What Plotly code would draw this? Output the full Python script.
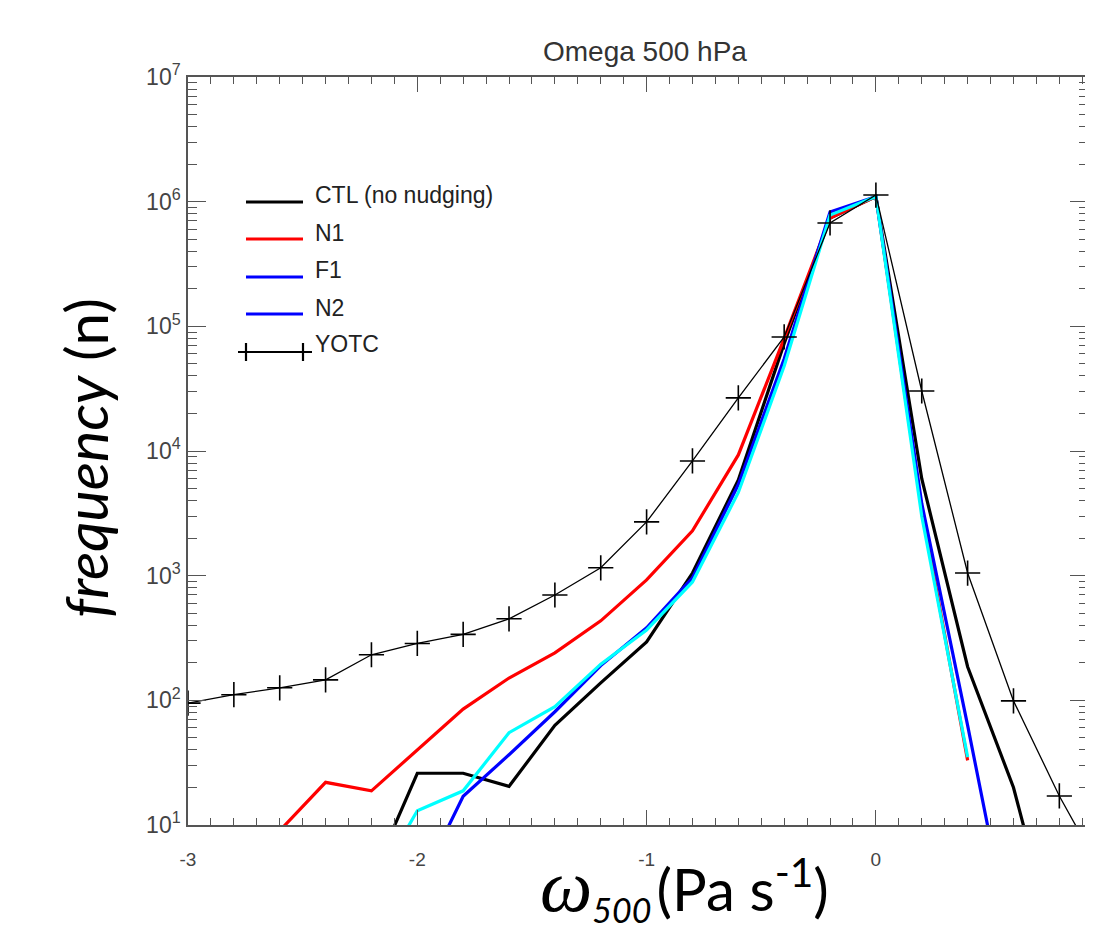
import plotly.graph_objects as go

# ---------------- data ----------------
omega = [-3.0, -2.8, -2.6, -2.4, -2.2, -2.0, -1.8, -1.6, -1.4, -1.2, -1.0,
         -0.8, -0.6, -0.4, -0.2, 0.0, 0.2, 0.4, 0.6, 0.8, 1.0]

ctl = [None, None, None, None, 3.7, 26, 26, 20.4, 63, 138, 294,
       1050, 5850, 73000, 740000, 1100000, 6000, 186, 20, 0.8, None]
n1 = [None, None, 9, 22, 18.8, 40, 85, 151, 240, 434, 925,
      2290, 9300, 80000, 740000, 1100000, 3400, 33, None, None, None]
f1 = [None, None, None, None, None, 3, 17, 36.6, 81, 190, 382,
      960, 5380, 55000, 826000, 1100000, 3800, 63, 0.9, None, None]
n2 = [None, None, None, None, 3, 13, 18.8, 55, 89, 195, 367,
      890, 4650, 48000, 780000, 1100000, 3000, 35, None, None, None]
yotc = [95, 111, 126, 146, 232, 286, 338, 451, 700, 1156, 2700,
        8320, 26700, 82200, 675000, 1130000, 30300, 1050, 99, 17.1, 3.7]

x_tickvals = [-3, -2, -1, 0]
x_ticktext = ["-3", "-2", "-1", "0"]
y_exponents = [1, 2, 3, 4, 5, 6, 7]

legend_names = ["CTL (no nudging)", "N1", "F1", "N2", "YOTC"]
legend_colors = ["#000000", "#ff0000", "#0000ff", "#0000ff", "#000000"]

# ---------------- figure ----------------
fig = go.Figure()

series = [
    ("CTL (no nudging)", ctl, "#000000"),
    ("N1", n1, "#ff0000"),
    ("F1", f1, "#0000ff"),
    ("N2", n2, "#00ffff"),
]
for name, vals, col in series:
    fig.add_trace(go.Scatter(
        x=omega, y=vals, mode="lines", name=name,
        line=dict(color=col, width=3.2), showlegend=False,
        connectgaps=False,
    ))

fig.add_trace(go.Scatter(
    x=omega, y=yotc, mode="lines+markers", name="YOTC",
    line=dict(color="#000000", width=1.3),
    marker=dict(symbol="cross-thin", size=18,
                line=dict(color="#000000", width=1.6)),
    showlegend=False,
))

# geometry: screen pixels (page has an 8px body margin)
OFF = 8
W, H = 1093, 929
L, R, T, B = 188, 1088, 77, 825  # plot area in screen pixels
x0, x1 = -3.0, 0.925

y_tickvals = [10 ** e for e in y_exponents]
y_ticktext = ["10<sup>%d</sup>" % e for e in y_exponents]
y_minor = [k * 10 ** e for e in y_exponents[:-1] for k in range(2, 10)]

axcol = "#555555"
fig.update_layout(
    width=W, height=H,
    margin=dict(l=L - OFF, r=W - (R - OFF), t=T - OFF, b=H - (B - OFF), pad=0),
    plot_bgcolor="white", paper_bgcolor="white",
    font=dict(family="Liberation Sans, Arial, sans-serif", color="#444444"),
    showlegend=False,
    xaxis=dict(
        range=[x0, x1], showgrid=False, zeroline=False,
        showline=True, linecolor=axcol, linewidth=1.5, mirror="ticks",
        ticks="inside", ticklen=15, tickwidth=1.2, tickcolor=axcol,
        tickvals=x_tickvals, ticktext=x_ticktext,
        tickfont=dict(size=19, color="#444444"),
        ticklabelstandoff=16,
        minor=dict(dtick=0.1, tick0=0, ticks="inside", ticklen=7,
                   tickwidth=1.2, tickcolor=axcol, showgrid=False),
    ),
    yaxis=dict(
        type="log", range=[1, 7], showgrid=False, zeroline=False,
        showline=True, linecolor=axcol, linewidth=1.5, mirror="ticks",
        ticks="inside", ticklen=18, tickwidth=1.2, tickcolor=axcol,
        tickvals=y_tickvals, ticktext=y_ticktext,
        tickfont=dict(size=23, color="#444444"),
        ticklabelstandoff=1,
        minor=dict(tickmode="array", tickvals=y_minor, ticks="inside", ticklen=9,
                   tickwidth=1.4, tickcolor=axcol, showgrid=False),
    ),
)


def px(xp):
    return (xp - L) / (R - L)


def py(yp):
    return (B - yp) / (B - T)


# title
fig.add_annotation(
    text="Omega 500 hPa", xref="paper", yref="paper",
    x=px(645), y=py(52),
    xanchor="center", yanchor="middle", showarrow=False,
    font=dict(size=28, color="#333333", family="Liberation Sans, Arial"),
)

# axis titles
fig.add_annotation(
    text=("<span style='font-family:Liberation Serif;font-size:74px'><i>ω</i></span>"
          "<sub><span style='font-size:34px'><i>500</i></span></sub>"
          "<span style='font-size:20px'> </span>(Pa s<sup>-1</sup>)"),
    xref="paper", yref="paper",
    x=px(684), y=py(887),
    xanchor="center", yanchor="middle", showarrow=False,
    font=dict(size=58, color="#000000", family="Lato, Open Sans, sans-serif"),
)
fig.add_annotation(
    text="<i>frequency</i> (n)",
    xref="paper", yref="paper",
    x=px(86), y=py(458),
    xanchor="center", yanchor="middle", showarrow=False, textangle=-90,
    font=dict(size=59, color="#000000", family="Lato, Open Sans, sans-serif"),
)

# manual legend
line_y = [202, 239, 277, 314, 352]
text_y = [195, 233, 270, 308, 344]
for i, (nm, col) in enumerate(zip(legend_names, legend_colors)):
    if nm == "YOTC":
        fig.add_shape(type="line", xref="paper", yref="paper",
                      x0=px(238), x1=px(312), y0=py(line_y[i]), y1=py(line_y[i]),
                      line=dict(color=col, width=2.2))
        for cx in (246, 303):
            fig.add_shape(type="line", xref="paper", yref="paper",
                          x0=px(cx), x1=px(cx), y0=py(line_y[i] - 9), y1=py(line_y[i] + 9),
                          line=dict(color=col, width=2.2))
    else:
        fig.add_shape(type="line", xref="paper", yref="paper",
                      x0=px(246), x1=px(303), y0=py(line_y[i]), y1=py(line_y[i]),
                      line=dict(color=col, width=3))
    fig.add_annotation(text=nm, xref="paper", yref="paper",
                       x=px(313), y=py(text_y[i]), xanchor="left", yanchor="middle",
                       showarrow=False,
                       font=dict(size=23, color="#222222", family="Liberation Sans, Arial"))

fig.write_html("out.html")
